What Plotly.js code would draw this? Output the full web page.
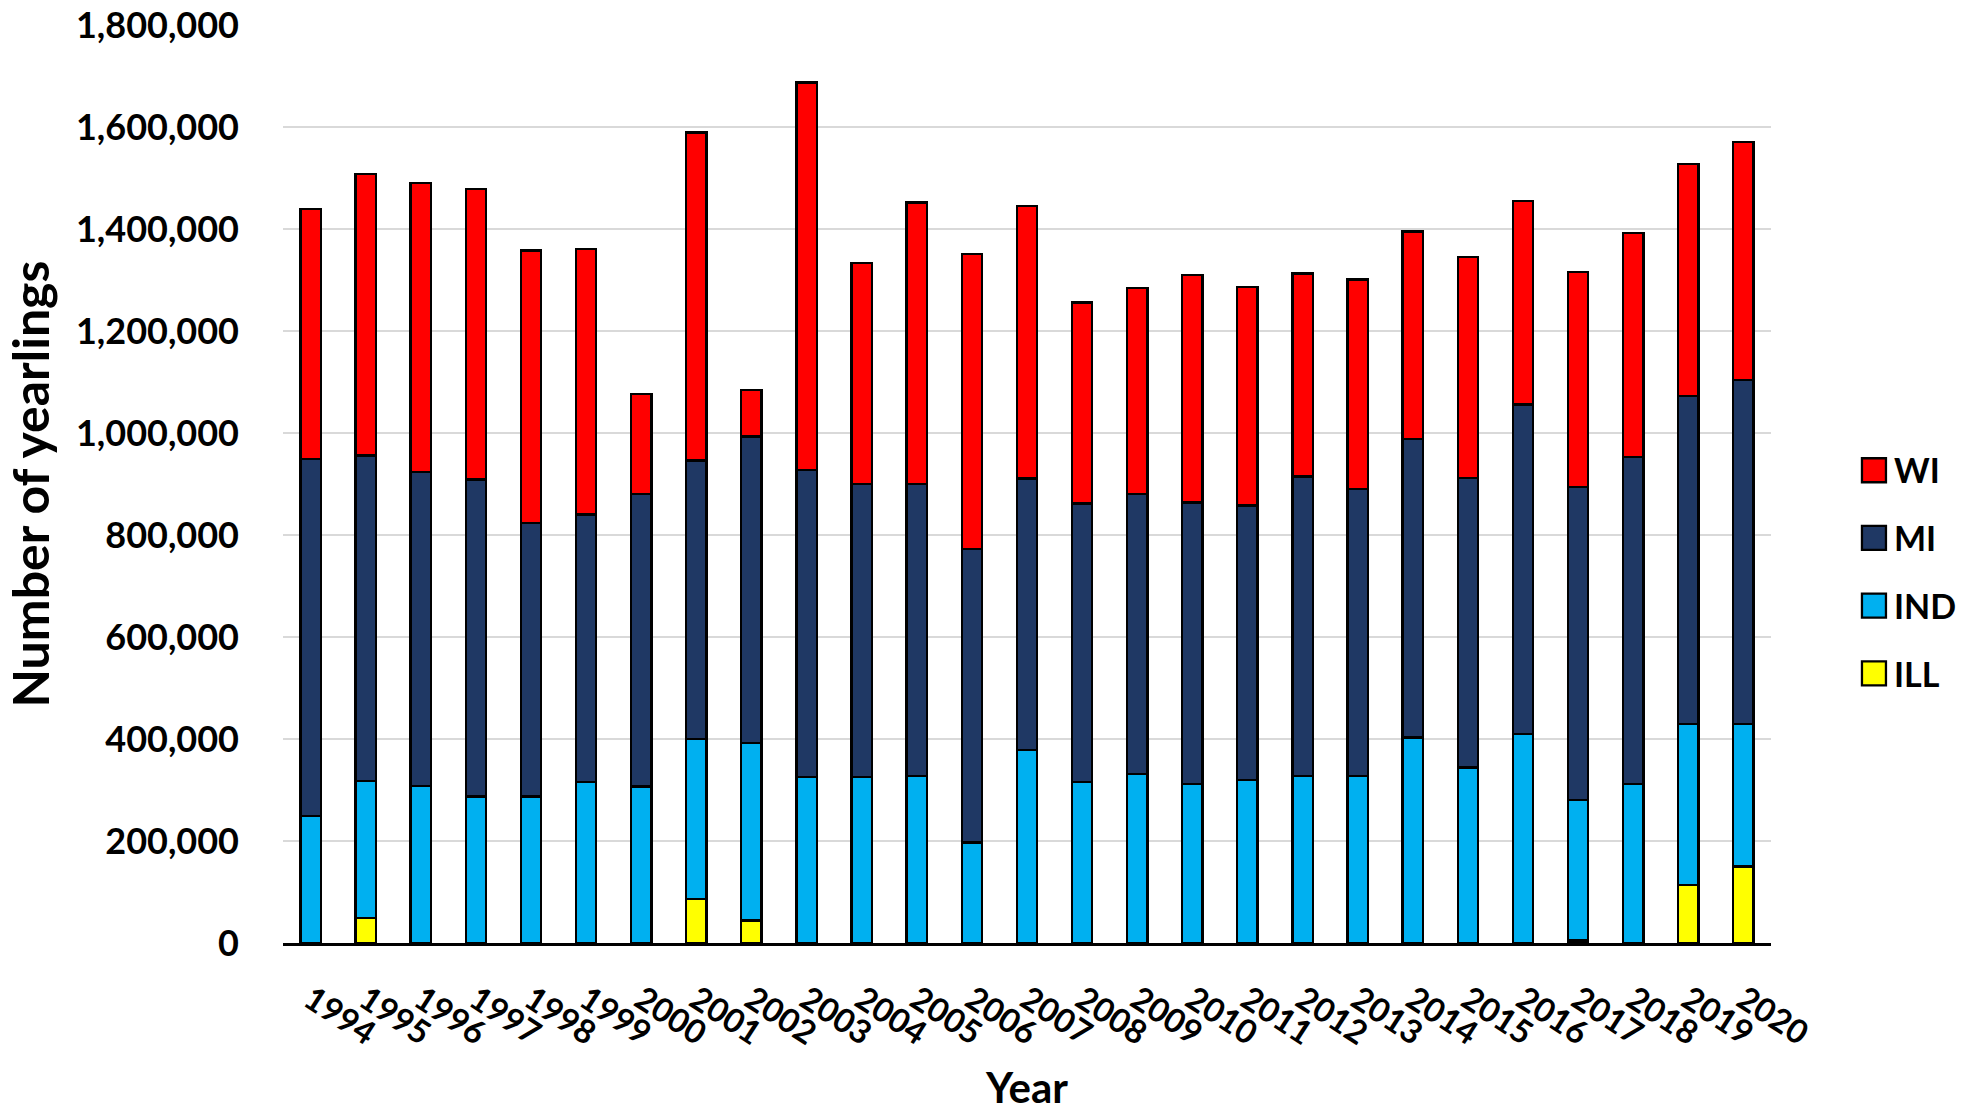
<!DOCTYPE html>
<html>
<head>
<meta charset="utf-8">
<script src="https://cdn.plot.ly/plotly-3.0.1.min.js"></script>
<style>
  html, body { margin: 0; padding: 0; background: #ffffff; }
  #chart { width: 1962px; height: 1112px; }
</style>
</head>
<body>
<div id="chart"></div>
<script>
// Yearling counts by state, stacked per year (bottom to top: ILL, IND, MI, WI)
const years = ['1994','1995','1996','1997','1998','1999','2000','2001','2002','2003','2004',
               '2005','2006','2007','2008','2009','2010','2011','2012','2013','2014','2015',
               '2016','2017','2018','2019','2020'];

const ILL = [0, 49000, 0, 0, 0, 0, 0, 86000, 44000, 0, 0, 0, 0, 0, 0, 0, 0, 0, 0, 0, 0, 0,
             0, 5000, 0, 114000, 150000];

const IND = [249000, 269000, 308000, 287000, 287000, 316000, 307000, 314000, 348000, 325000,
             325000, 328000, 197000, 379000, 316000, 332000, 312000, 319000, 328000, 328000,
             403000, 344000, 410000, 276000, 312000, 315000, 279000];

const MI = [700000, 638000, 616000, 622000, 537000, 524000, 574000, 546000, 601000, 602000,
            575000, 572000, 576000, 532000, 546000, 549000, 552000, 539000, 587000, 562000,
            585000, 568000, 646000, 613000, 641000, 644000, 675000];

const WI = [490000, 552000, 566000, 570000, 534000, 521000, 196000, 643000, 92000, 760000,
            433000, 552000, 578000, 534000, 394000, 404000, 446000, 428000, 398000, 411000,
            407000, 433000, 399000, 422000, 439000, 454000, 466000];

const seriesNames = ['ILL', 'IND', 'MI', 'WI'];
const seriesValues = [ILL, IND, MI, WI];
const seriesColors = ['#FFFF00', '#00B0F0', '#1F3864', '#FF0000'];

const FONT = 'Lato, "Open Sans", "Liberation Sans", sans-serif';

const traces = seriesNames.map((name, i) => ({
  type: 'bar',
  name: name,
  legendgroup: name,
  legendrank: seriesNames.length - i,   // top series listed first
  x: years,
  y: seriesValues[i],
  marker: { color: seriesColors[i], line: { color: '#000000', width: 2.3 } },
  hoverinfo: 'skip'
}));

const layout = {
  width: 1962,
  height: 1112,
  paper_bgcolor: '#ffffff',
  plot_bgcolor: '#ffffff',
  barmode: 'stack',
  bargap: 0.63,
  margin: { l: 283, r: 191, t: 25, b: 169, pad: 0 },
  font: { family: FONT, color: '#000000' },
  xaxis: {
    type: 'category',
    showline: true,
    linecolor: '#000000',
    linewidth: 2.5,
    ticks: '',
    tickangle: 33,
    ticklabelstandoff: 22,
    tickfont: { family: FONT, size: 33, color: '#000000', weight: 700 },
    showgrid: false,
    title: { text: 'Year', font: { family: FONT, size: 42, color: '#000000', weight: 700 }, standoff: 30 }
  },
  yaxis: {
    range: [0, 1800000],
    dtick: 200000,
    tick0: 0,
    tickformat: ',d',
    showline: false,
    zeroline: false,
    ticks: '',
    ticklabelstandoff: 43,
    showgrid: true,
    gridcolor: '#D9D9D9',
    gridwidth: 1.5,
    tickfont: { family: FONT, size: 36, color: '#000000', weight: 700 },
    title: { text: 'Number of yearlings', font: { family: FONT, size: 50, color: '#000000', weight: 700 }, standoff: 16 }
  },
  showlegend: true,
  legend: {
    orientation: 'v',
    x: 1.0450,
    xanchor: 'left',
    y: 0.404,
    yanchor: 'middle',
    traceorder: 'grouped',
    tracegroupgap: 20.5,
    bgcolor: 'rgba(0,0,0,0)',
    font: { family: FONT, size: 34, color: '#000000', weight: 700 }
  }
};

const LEGEND_SHIFT = 16;   // nudge the legend toward the right edge

Plotly.newPlot('chart', traces, layout, { staticPlot: true, displayModeBar: false }).then(gd => {
  // larger square legend swatches
  gd.querySelectorAll('.legend .legendpoints path').forEach(p => {
    p.setAttribute('d', 'M12,12H-12V-12H12Z');
    p.style.strokeWidth = '2.3px';
  });
  const leg = gd.querySelector('g.legend');
  if (leg) {
    const m = /translate\(\s*([-\d.]+)[ ,]+([-\d.]+)\s*\)/.exec(leg.getAttribute('transform') || '');
    if (m) leg.setAttribute('transform', `translate(${parseFloat(m[1]) + LEGEND_SHIFT},${m[2]})`);
  }
});
</script>
</body>
</html>
